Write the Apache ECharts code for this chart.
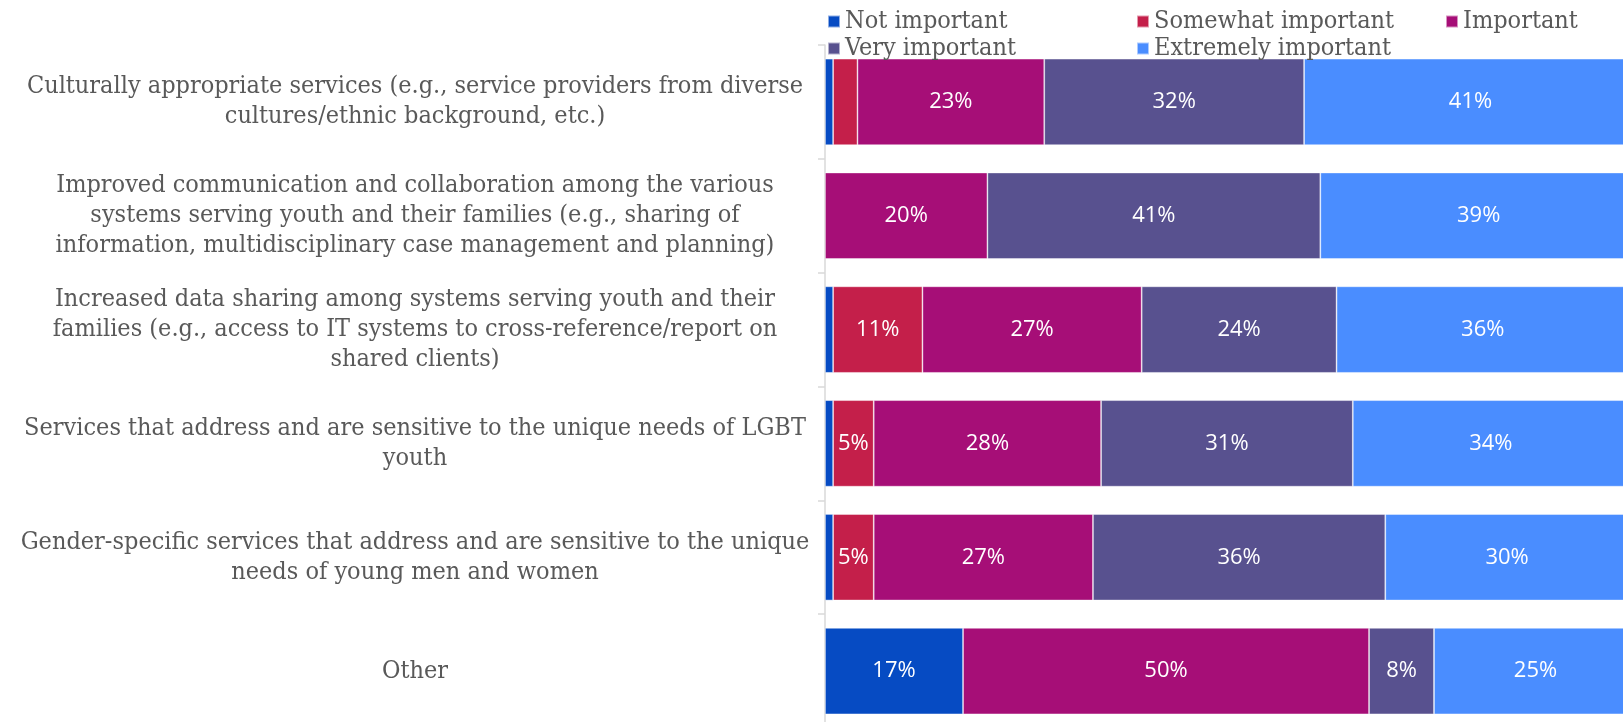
<!DOCTYPE html>
<html>
<head>
<meta charset="utf-8">
<script src="https://cdn.jsdelivr.net/npm/echarts@6/dist/echarts.min.js"></script>
<style>
  html, body { margin: 0; padding: 0; background: #fff; }
  #chart { width: 1623px; height: 722px; }
</style>
</head>
<body>
<div id="chart"></div>
<script>
// Survey items, listed top to bottom
const categories = [
  "Culturally appropriate services (e.g., service providers from diverse\ncultures/ethnic background, etc.)",
  "Improved communication and collaboration among the various\nsystems serving youth and their families (e.g., sharing of\ninformation, multidisciplinary case management and planning)",
  "Increased data sharing among systems serving youth and their\nfamilies (e.g., access to IT systems to cross-reference/report on\nshared clients)",
  "Services that address and are sensitive to the unique needs of LGBT\nyouth",
  "Gender-specific services that address and are sensitive to the unique\nneeds of young men and women",
  "Other"
];

// Share of respondents (%) per importance rating
const notImportant       = [1, null, 1, 1, 1, 17];
const somewhatImportant  = [3, null, 11, 5, 5, null];
const important          = [23, 20, 27, 28, 27, 50];
const veryImportant      = [32, 41, 24, 31, 36, 8];
const extremelyImportant = [41, 39, 36, 34, 30, 25];

const seriesNames = ["Not important", "Somewhat important", "Important", "Very important", "Extremely important"];
const seriesData = [notImportant, somewhatImportant, important, veryImportant, extremelyImportant];
const seriesColors = ["#064BC3", "#C41F4A", "#A60E77", "#58518F", "#4A8DFF"];

const serifFont = "'DejaVu Serif Condensed', 'DejaVu Serif', serif";
const textGrey = "#595959";

const chart = echarts.init(document.getElementById("chart"), null, { renderer: "canvas" });

const legendText = { color: textGrey, fontFamily: serifFont, fontSize: 25 };
function legendColumn(names, left) {
  return {
    orient: "vertical",
    left: left,
    top: 4,
    itemWidth: 12,
    itemHeight: 12,
    itemGap: 2,
    icon: "rect",
    data: names,
    textStyle: legendText
  };
}

chart.setOption({
  animation: false,
  backgroundColor: "#fff",
  legend: [
    legendColumn(["Not important", "Very important"], 822),
    legendColumn(["Somewhat important", "Extremely important"], 1131),
    legendColumn(["Important"], 1440)
  ],
  // the plot runs a little past the right edge of the canvas
  grid: {
    left: 825, width: 812, top: 45, bottom: -6,
    containLabel: false,
    outerBoundsMode: "none"
  },
  xAxis: {
    type: "value",
    min: 0,
    max: 100,
    show: false
  },
  yAxis: {
    type: "category",
    inverse: true,
    data: categories,
    axisLine: { show: true, lineStyle: { color: "#D9D9D9", width: 1.5 } },
    axisTick: { show: true, length: 7, lineStyle: { color: "#D9D9D9", width: 1.5 } },
    axisLabel: {
      margin: 22,
      align: "right",
      color: textGrey,
      fontFamily: serifFont,
      fontSize: 25,
      lineHeight: 30,
      formatter: function (v) {
        return v.split("\n").map(function (line) { return "{c|" + line + "}"; }).join("\n");
      },
      rich: {
        c: {
          width: 776,
          align: "center",
          color: textGrey,
          fontFamily: serifFont,
          fontSize: 25,
          lineHeight: 30
        }
      }
    }
  },
  series: seriesNames.map(function (name, i) {
    return {
      name: name,
      type: "bar",
      stack: "total",
      barCategoryGap: "24%",
      data: seriesData[i],
      itemStyle: { color: seriesColors[i], borderColor: "rgba(255,255,255,0.55)", borderWidth: 0.8 },
      label: {
        show: true,
        position: "inside",
        color: "#fff",
        fontFamily: "'Open Sans', Lato, sans-serif",
        fontSize: 22,
        formatter: function (p) { return p.value >= 5 ? p.value + "%" : ""; }
      }
    };
  })
});
</script>
</body>
</html>
